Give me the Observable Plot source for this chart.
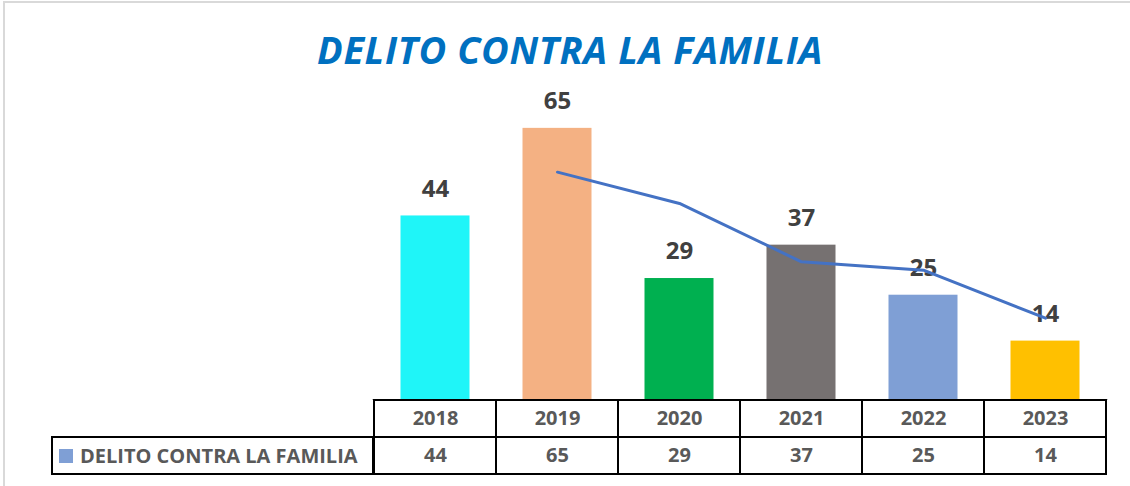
<!DOCTYPE html>
<html><head><meta charset="utf-8">
<script src="https://cdn.jsdelivr.net/npm/d3@7"></script>
<script src="https://cdn.jsdelivr.net/npm/@observablehq/plot@0.6"></script>
<style>
body{margin:0;background:#fff;}
#wrap{position:relative;width:1130px;height:486px;overflow:hidden;font-family:"Open Sans",sans-serif;background:#fff;}
#frame{position:absolute;left:3px;top:1px;width:1140px;height:500px;border:2px solid #d9d9d9;box-sizing:border-box;}
#title{position:absolute;left:0;width:1140px;top:24px;text-align:center;font-size:38px;letter-spacing:0.6px;font-weight:700;font-style:italic;color:#0070C0;line-height:50px;white-space:nowrap;}
#chart{position:absolute;left:0;top:0;}
#table{position:absolute;left:0;top:399px;}
#legend{position:absolute;left:51px;top:436px;width:323px;height:39px;border:2px solid #000;box-sizing:border-box;display:flex;align-items:center;font-size:20px;font-weight:700;color:#595959;white-space:nowrap;}
#legend .sw{width:14px;height:14px;background:#7F9FD5;margin-left:6px;margin-right:7px;}
</style></head><body><div id="wrap"><div id="frame"></div><div id="title"></div><div id="chart"></div><div id="table"></div><div id="legend"><span class="sw"></span><span id="legtext"></span></div></div>
<script>
const chartTitle = "DELITO CONTRA LA FAMILIA";
const seriesName = "DELITO CONTRA LA FAMILIA";
const years = ["2018", "2019", "2020", "2021", "2022", "2023"];
const counts = [44, 65, 29, 37, 25, 14];
const barColors = ["#1FF5F8", "#F4B183", "#00B050", "#767171", "#7F9FD5", "#FFC000"];
const trendYears = ["2019", "2020", "2021", "2022", "2023"];
const trendValues = [54.5, 47, 33, 31, 19.5];

document.getElementById("title").textContent = chartTitle;
document.getElementById("legtext").textContent = seriesName;

const bars = years.map((y, i) => ({year: y, value: counts[i], color: barColors[i]}));
const trend = trendYears.map((y, i) => ({year: y, value: trendValues[i]}));
const xScale = {type: "band", domain: years, padding: 0};

const chart = Plot.plot({
  width: 1130, height: 400,
  marginLeft: 372, marginRight: 22, marginTop: 107, marginBottom: 1,
  x: {...xScale, axis: null},
  y: {domain: [0, 70], axis: null},
  style: {fontFamily: "Open Sans, sans-serif", background: "transparent"},
  marks: [
    Plot.barY(bars, {x: "year", y: "value", fill: "color", insetLeft: 26.5, insetRight: 26.5}),
    Plot.ruleY([0], {stroke: "#bfbfbf", strokeWidth: 1}),
    Plot.text(bars, {x: "year", y: "value", text: d => String(d.value), dy: -27, fontSize: 24, fontWeight: 700, fill: "#404040"}),
    Plot.lineY(trend, {x: "year", y: "value", stroke: "#4472C4", strokeWidth: 3})
  ]
});
document.getElementById("chart").appendChild(chart);

const rows = ["year", "value"];
const cells = [];
years.forEach((y, i) => {
  cells.push({year: y, row: "year", label: y});
  cells.push({year: y, row: "value", label: String(counts[i])});
});
const table = Plot.plot({
  width: 1130, height: 87,
  marginLeft: 372, marginRight: 22, marginTop: 1, marginBottom: 12,
  x: {...xScale, axis: null},
  y: {type: "band", domain: rows, padding: 0, axis: null},
  style: {fontFamily: "Open Sans, sans-serif", background: "transparent"},
  marks: [
    Plot.cell(cells, {x: "year", y: "row", fill: "white", stroke: "#000", strokeWidth: 2}),
    Plot.text(cells, {x: "year", y: "row", text: "label", fontSize: 20, fontWeight: 700, fill: "#595959"})
  ]
});
document.getElementById("table").appendChild(table);
</script></body></html>
